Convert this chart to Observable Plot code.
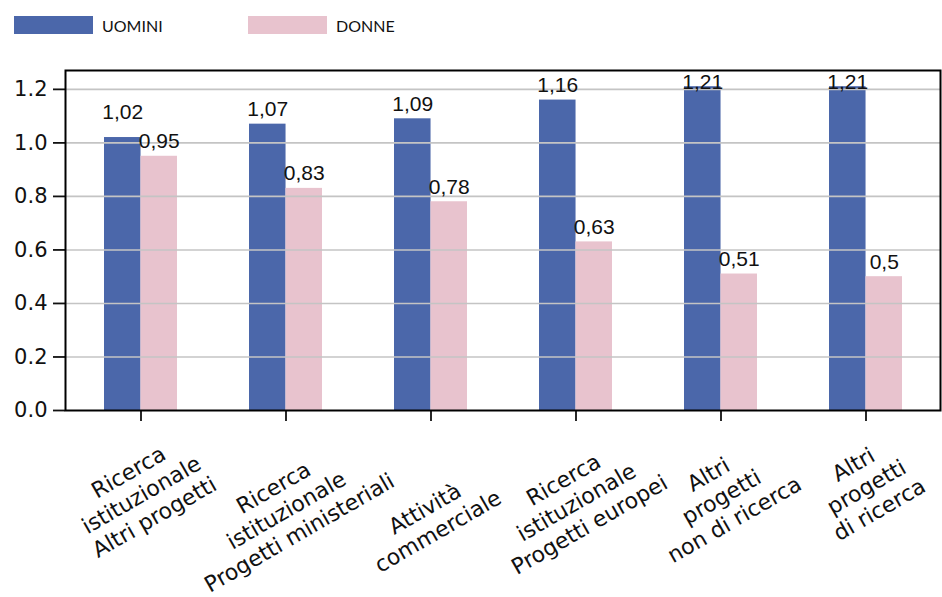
<!DOCTYPE html>
<html><head><meta charset="utf-8">
<script src="https://cdn.jsdelivr.net/npm/d3@7"></script>
<script src="https://cdn.jsdelivr.net/npm/@observablehq/plot@0.6"></script>
<style>
body{margin:0;background:#fff;}
#legend svg, #chart svg{display:block;}
</style></head><body>
<div id="legend"></div>
<div id="chart"></div>
<script>
const categories = [
  "Ricerca\nistituzionale\nAltri progetti",
  "Ricerca\nistituzionale\nProgetti ministeriali",
  "Attività\ncommerciale",
  "Ricerca\nistituzionale\nProgetti europei",
  "Altri\nprogetti\nnon di ricerca",
  "Altri\nprogetti\ndi ricerca"
];
const uomini = [1.02, 1.07, 1.09, 1.16, 1.21, 1.21];
const donne  = [0.95, 0.83, 0.78, 0.63, 0.51, 0.5];
const series = ["UOMINI", "DONNE"];
const colors = ["#4b67aa", "#e8c3ce"];
const yTicks = [0, 0.2, 0.4, 0.6, 0.8, 1.0, 1.2];

const W = 942, legendH = 50, H = 547;
const mL = 65, mR = 2, mT = 20, mB = 187;

// legend
const lg = d3.select("#legend").append("svg").attr("width", W).attr("height", legendH);
const legX = [14, 248];
series.forEach((s, i) => {
  lg.append("rect").attr("x", legX[i]).attr("y", 16).attr("width", 79).attr("height", 18).attr("fill", colors[i]);
  lg.append("text").attr("x", legX[i] + 88).attr("y", 31.5)
    .attr("font-family", "Lato, sans-serif").attr("font-size", 16).attr("fill", "#111").text(s);
});

const rows = [];
categories.forEach((c, i) => {
  rows.push({cat: c, serie: series[0], value: uomini[i], other: donne[i]});
  rows.push({cat: c, serie: series[1], value: donne[i], other: uomini[i]});
});
const fmt = v => String(v).replace(".", ",");

const innerW = W - mL - mR;
const step = innerW / 6;
const bw = step * 0.5;      // band width (two bars)
const half = bw / 2;

// value label y: capped near the top, lifted when it would collide with the neighbour label
const labelY = d => {
  let y = d.value;
  if (d.serie === series[0] && d.value - d.other < 0.1) y += 0.04;
  return Math.min(y, 1.17);
};

// category labels: rotated multi-line blocks under the ticks
const catFont = 22, catLH = 1.18;
const ctx = document.createElement("canvas").getContext("2d");
ctx.font = `${catFont}px "DejaVu Sans"`;
const catMarks = categories.map(c => {
  const lines = c.split("\n");
  const wMax = d3.max(lines, l => ctx.measureText(l).width);
  const lineStep = catFont * catLH;
  return Plot.text([c], {
    x: d => d, text: d => d, frameAnchor: "bottom",
    dy: 55 + 0.205 * wMax + (3 - lines.length) * lineStep * 0.95,
    rotate: -30, textAnchor: "middle", lineAnchor: "middle",
    lineHeight: catLH, fontSize: catFont, fontFamily: "DejaVu Sans", fill: "#111"
  });
});

const chart = Plot.plot({
  width: W, height: H,
  marginLeft: mL, marginRight: mR, marginTop: mT, marginBottom: mB,
  style: {fontFamily: "DejaVu Sans", fontSize: "21px", color: "#111", background: "#fff"},
  x: {domain: categories, type: "band", paddingInner: 0.5, paddingOuter: 0.25, axis: null},
  y: {domain: [0, 1.2705], axis: null},
  marks: [
    Plot.barY(rows.filter(d => d.serie === series[0]), {x: "cat", y: "value", fill: colors[0], insetRight: half}),
    Plot.barY(rows.filter(d => d.serie === series[1]), {x: "cat", y: "value", fill: colors[1], insetLeft: half}),
    Plot.gridY(yTicks.filter(t => t > 0), {stroke: "#c4c4c4", strokeOpacity: 1, strokeWidth: 1.6}),
    Plot.text(rows.filter(d => d.serie === series[0]), {
      x: "cat", y: labelY, text: d => fmt(d.value), dx: -half / 2, dy: -8,
      lineAnchor: "bottom", fontSize: 21, fontFamily: "Liberation Sans", fill: "#111"
    }),
    Plot.text(rows.filter(d => d.serie === series[1]), {
      x: "cat", y: labelY, text: d => fmt(d.value), dx: half / 2, dy: -8,
      lineAnchor: "bottom", fontSize: 21, fontFamily: "Liberation Sans", fill: "#111"
    }),
    Plot.axisY({ticks: yTicks, tickFormat: d3.format(".1f"), tickSize: 12, tickPadding: 6, strokeWidth: 1.8, fontSize: 21, label: null}),
    Plot.axisX({tickSize: 11, tickFormat: () => "", strokeWidth: 1.8, label: null}),
    ...catMarks,
    Plot.frame({stroke: "#000", strokeWidth: 2})
  ]
});
document.getElementById("chart").appendChild(chart);
</script>
</body></html>
